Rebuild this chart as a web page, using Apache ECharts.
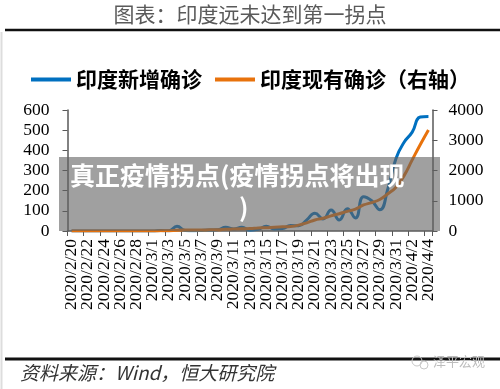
<!DOCTYPE html>
<html>
<head>
<meta charset="utf-8">
<script src="https://cdn.jsdelivr.net/npm/echarts@6/dist/echarts.min.js"></script>
<style>
html,body{margin:0;padding:0;background:#fff;}
#c{width:500px;height:389px;}
</style>
</head>
<body>
<div id="c"></div>
<script>
const categories = [
  '2020/2/20','2020/2/21','2020/2/22','2020/2/23','2020/2/24','2020/2/25','2020/2/26','2020/2/27','2020/2/28','2020/2/29',
  '2020/3/1','2020/3/2','2020/3/3','2020/3/4','2020/3/5','2020/3/6','2020/3/7','2020/3/8','2020/3/9','2020/3/10',
  '2020/3/11','2020/3/12','2020/3/13','2020/3/14','2020/3/15','2020/3/16','2020/3/17','2020/3/18','2020/3/19','2020/3/20',
  '2020/3/21','2020/3/22','2020/3/23','2020/3/24','2020/3/25','2020/3/26','2020/3/27','2020/3/28','2020/3/29','2020/3/30',
  '2020/3/31','2020/4/1','2020/4/2','2020/4/3','2020/4/4'
];
const newCases = [
  0,0,0,0,0,0,0,0,0,0,
  0,2,1,23,2,1,3,5,6,18,
  10,18,5,8,24,10,12,27,26,55,
  88,60,104,55,110,65,170,150,105,210,
  360,440,490,565,568
];
const activeCases = [
  3,3,3,3,3,3,3,3,3,3,
  3,5,6,28,30,31,34,39,43,59,
  70,77,80,100,108,125,137,150,195,270,
  364,420,500,570,650,720,860,940,1040,1230,
  1450,1830,2350,2860,3340
];
const seriesNames = ['印度新增确诊', '印度现有确诊（右轴）'];
const leftTicks = {min: 0, max: 600, interval: 100};
const rightTicks = {min: 0, max: 4000, interval: 1000};
const titleText = '图表：印度远未达到第一拐点';
const sourceText = '资料来源：Wind，恒大研究院';
const overlayLine1 = '真正疫情拐点(疫情拐点将出现';
const overlayLine2 = ')';
const watermarkText = '泽平宏观';

const serif = '"Liberation Serif","DejaVu Serif",serif';
const cjk = '"Noto Sans CJK SC","Noto Sans",sans-serif';
const axisColor = '#595959';

const chart = echarts.init(document.getElementById('c'), null, {renderer: 'canvas'});
chart.setOption({
  animation: false,
  backgroundColor: '#fff',
  grid: {left: 67.5, right: 67.5, top: 110, bottom: 158, containLabel: false},
  legend: {
    left: 26, top: 64,
    itemWidth: 40, itemHeight: 4, itemGap: 13,
    icon: 'rect',
    textStyle: {fontFamily: cjk, fontSize: 21, color: '#000', fontWeight: 'bold'},
    data: seriesNames
  },
  xAxis: {
    type: 'category',
    data: categories,
    boundaryGap: true,
    axisLine: {lineStyle: {color: axisColor, width: 1.5}},
    axisTick: {show: true, interval: 1, length: 5, lineStyle: {color: axisColor}},
    axisLabel: {
      interval: 0,
      formatter: function (v, idx) { return idx % 2 === 0 ? v : ''; },
      showMinLabel: true, showMaxLabel: true, hideOverlap: false,
      rotate: 90, margin: 8, fontFamily: serif, fontSize: 17.5, color: '#000'
    }
  },
  yAxis: [
    {
      type: 'value', min: leftTicks.min, max: leftTicks.max, interval: leftTicks.interval,
      splitLine: {show: false},
      axisLine: {show: true, lineStyle: {color: axisColor, width: 1.5}},
      axisTick: {show: true, length: 5, lineStyle: {color: axisColor}},
      axisLabel: {margin: 18, fontFamily: serif, fontSize: 17.5, color: '#000',
        formatter: function (v) { return String(v); }}
    },
    {
      type: 'value', min: rightTicks.min, max: rightTicks.max, interval: rightTicks.interval,
      position: 'right',
      splitLine: {show: false},
      axisLine: {show: true, lineStyle: {color: axisColor, width: 1.5}},
      axisTick: {show: true, length: 5, lineStyle: {color: axisColor}},
      axisLabel: {margin: 16, fontFamily: serif, fontSize: 17.5, color: '#000',
        formatter: function (v) { return String(v); }}
    }
  ],
  series: [
    {
      name: seriesNames[0], type: 'line', yAxisIndex: 0, data: newCases,
      smooth: true, showSymbol: false, symbol: 'none',
      lineStyle: {color: '#0070C0', width: 3}, itemStyle: {color: '#0070C0'}, z: 3
    },
    {
      name: seriesNames[1], type: 'line', yAxisIndex: 1, data: activeCases,
      smooth: true, showSymbol: false, symbol: 'none',
      lineStyle: {color: '#E8720C', width: 3}, itemStyle: {color: '#E8720C'}, z: 4
    }
  ],
  graphic: [
    {type: 'text', left: 'center', top: 4, z: 100,
     style: {text: titleText, font: '21px ' + cjk, fill: '#5a5a5a'}},
    {type: 'line', z: 100, shape: {x1: 5, y1: 30, x2: 500, y2: 30}, style: {stroke: '#111', lineWidth: 2.5}},
    {type: 'line', z: 100, shape: {x1: 5, y1: 359, x2: 500, y2: 359}, style: {stroke: '#111', lineWidth: 3}},
    {type: 'line', z: 100, shape: {x1: 1.5, y1: 32, x2: 1.5, y2: 389}, style: {stroke: '#dddddd', lineWidth: 2}},
    {type: 'text', z: 100, x: 20, y: 363,
     style: {text: sourceText, font: 'italic 19px ' + cjk, fill: '#333'}},
    {type: 'circle', z: 100, shape: {cx: 417, cy: 361, r: 5}, style: {fill: 'none', stroke: '#c8c8c8', lineWidth: 1}},
    {type: 'circle', z: 100, shape: {cx: 424, cy: 365, r: 4}, style: {fill: 'none', stroke: '#c8c8c8', lineWidth: 1}},
    {type: 'text', z: 100, x: 433, y: 355,
     style: {text: watermarkText, font: '13px ' + cjk, fill: '#bdbdbd'}},
    {type: 'rect', z: 100, shape: {x: 59, y: 157, width: 381, height: 74},
     style: {fill: 'rgba(96,96,96,0.6)'}},
    {type: 'text', z: 101, x: 70, y: 163,
     style: {text: overlayLine1, font: 'bold 25px ' + cjk, fill: '#fff'}},
    {type: 'text', z: 101, x: 239, y: 195,
     style: {text: overlayLine2, font: 'bold 25px ' + cjk, fill: '#fff'}}
  ]
});
</script>
</body>
</html>
